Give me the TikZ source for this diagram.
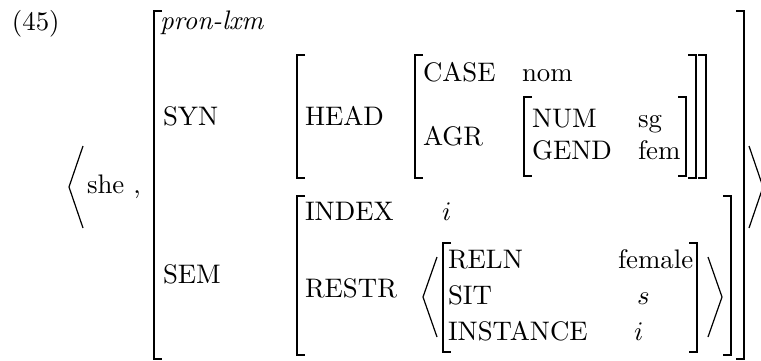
\documentclass[tikz,border=0pt]{standalone}
\begin{document}
\begin{tikzpicture}[x=0.373pt,y=-0.373pt,
  lbl/.style={anchor=base west,inner sep=0pt,outer sep=0pt},
  brk/.style={line width=0.45pt}]
\useasboundingbox (0,0) rectangle (761,360);
% example number
\node[lbl] (ex) at (12,30) {(45)};
% outer angle brackets and word
\draw[brk] (83,146) -- (69,187) -- (83,228);
\node[lbl] (she) at (87,193) {she ,};
\draw[brk] (749,146) -- (763,187) -- (749,228);
% outer matrix
\draw[brk] (154+8,11) -- (154,11) -- (154,359) -- (154+8,359);
\draw[brk] (744-8,11) -- (744,11) -- (744,359) -- (744-8,359);
\node[lbl] (type) at (160,29) {\textit{pron-lxm}};
\node[lbl] (syn) at (163,125) {SYN};
\node[lbl] (sem) at (163,283) {SEM};
% SYN value
\draw[brk] (297+8,55) -- (297,55) -- (297,178) -- (297+8,178);
\draw[brk] (706-8,55) -- (706,55) -- (706,178) -- (706-8,178);
\node[lbl] (head) at (305,125) {HEAD};
% HEAD value
\draw[brk] (415+8,55) -- (415,55) -- (415,178) -- (415+8,178);
\draw[brk] (696-8,55) -- (696,55) -- (696,178) -- (696-8,178);
\node[lbl] (case) at (423,81) {CASE};
\node[lbl] (nom) at (522,81) {nom};
\node[lbl] (agr) at (423,145) {AGR};
% AGR value
\draw[brk] (524+8,97) -- (524,97) -- (524,176) -- (524+8,176);
\draw[brk] (686-8,97) -- (686,97) -- (686,176) -- (686-8,176);
\node[lbl] (num) at (532,127) {NUM};
\node[lbl] (sg) at (638,127) {sg};
\node[lbl] (gend) at (532,159) {GEND};
\node[lbl] (fem) at (638,159) {fem};
% SEM value
\draw[brk] (297+8,196) -- (297,196) -- (297,355) -- (297+8,355);
\draw[brk] (731-8,196) -- (731,196) -- (731,355) -- (731-8,355);
\node[lbl] (index) at (305,220) {INDEX};
\node[lbl] (indexv) at (442,220) {$i$};
\node[lbl] (restr) at (305,297) {RESTR};
% RESTR list
\draw[brk] (437,257) -- (423,297) -- (437,337);
\draw[brk] (708,257) -- (722,297) -- (708,337);
\draw[brk] (443+8,243) -- (443,243) -- (443,352) -- (443+8,352);
\draw[brk] (697-8,243) -- (697,243) -- (697,352) -- (697-8,352);
\node[lbl] (reln) at (448,268) {RELN};
\node[lbl] (relnv) at (618,268) {female};
\node[lbl] (sit) at (448,304) {SIT};
\node[lbl] (sitv) at (637,304) {$s$};
\node[lbl] (inst) at (448,340) {INSTANCE};
\node[lbl] (instv) at (634,340) {$i$};
\end{tikzpicture}
\end{document}
